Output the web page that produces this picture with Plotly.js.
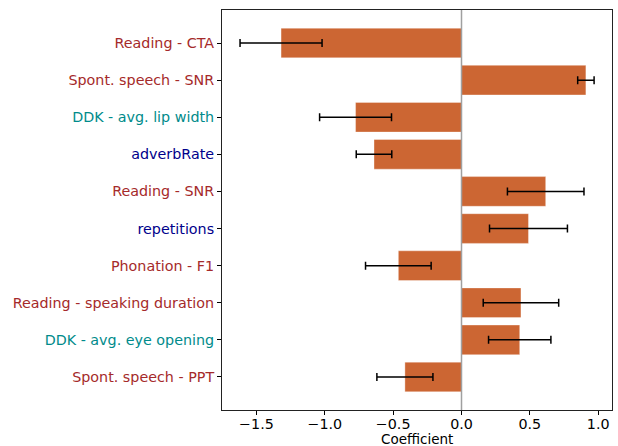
<!DOCTYPE html>
<html>
<head>
<meta charset="utf-8">
<script src="https://cdn.plot.ly/plotly-3.0.1.min.js"></script>
<style>html,body{margin:0;padding:0;background:#fff;}#chart{width:618px;height:446px;}</style>
</head>
<body>
<div id="chart"></div>
<script>
const features = ["Reading - CTA", "Spont. speech - SNR", "DDK - avg. lip width", "adverbRate", "Reading - SNR", "repetitions", "Phonation - F1", "Reading - speaking duration", "DDK - avg. eye opening", "Spont. speech - PPT"];
const coefficients = [-1.32, 0.91, -0.775, -0.64, 0.616, 0.49, -0.462, 0.435, 0.426, -0.414];
const errors = [0.30, 0.06, 0.263, 0.13, 0.28, 0.285, 0.24, 0.276, 0.228, 0.205];
const labelColors = ["#a52a2a", "#a52a2a", "#008b8b", "#00008b", "#a52a2a", "#00008b", "#a52a2a", "#a52a2a", "#008b8b", "#a52a2a"];

const idx = features.map((_, i) => i);
const ticktext = features.map((f, i) => '<span style="color:' + labelColors[i] + '">' + f + '</span>');

const trace = {
  type: 'bar',
  orientation: 'h',
  x: coefficients,
  y: idx,
  width: 0.8,
  marker: {color: '#cc6633', line: {color: 'rgba(255,255,255,0.35)', width: 1}},
  error_x: {type: 'data', array: errors, visible: true, color: '#000', thickness: 1.5, width: 4},
  hoverinfo: 'x+y'
};

const layout = {
  width: 618, height: 446,
  margin: {l: 222, r: 6, t: 10, b: 36},
  paper_bgcolor: '#fff', plot_bgcolor: '#fff',
  font: {family: 'DejaVu Sans', size: 14, color: '#000'},
  showlegend: false,
  xaxis: {
    range: [-1.752, 1.101],
    tickvals: [-1.5, -1.0, -0.5, 0.0, 0.5, 1.0],
    ticktext: ['\u22121.5', '\u22121.0', '\u22120.5', '0.0', '0.5', '1.0'],
    ticks: 'outside', ticklen: 4, tickwidth: 1, tickcolor: '#000',
    ticklabelstandoff: -3,
    showgrid: false,
    zeroline: false,
    showline: true, linecolor: '#222', linewidth: 1, mirror: true,
    tickfont: {size: 14.3}
  },
  yaxis: {
    range: [9.89, -0.89],
    tickvals: idx,
    ticktext: ticktext,
    ticks: 'outside', ticklen: 4, tickwidth: 1, tickcolor: '#000',
    showgrid: false, zeroline: false,
    showline: true, linecolor: '#222', linewidth: 1, mirror: true,
    tickfont: {size: 14.3}
  },
  annotations: [{
    text: 'Coefficient', xref: 'paper', yref: 'paper', x: 0.5, y: -0.073,
    xanchor: 'center', yanchor: 'middle', showarrow: false,
    font: {size: 13.5, color: '#000'}
  }],
  shapes: [{
    type: 'line', xref: 'x', yref: 'paper', x0: 0, x1: 0, y0: 0, y1: 1,
    line: {color: '#a0a0a0', width: 1.5}, layer: 'above'
  }]
};

Plotly.newPlot('chart', [trace], layout, {displayModeBar: false, staticPlot: true});
</script>
</body>
</html>
